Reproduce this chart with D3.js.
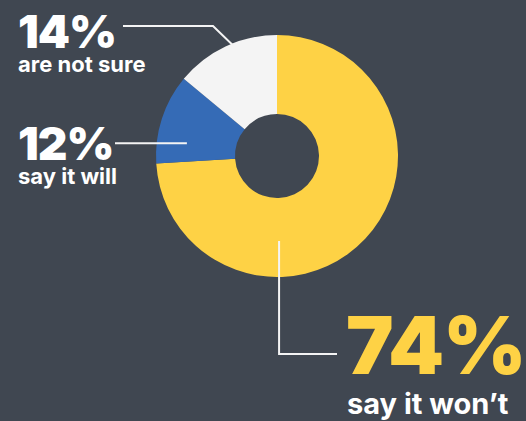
<!DOCTYPE html>
<html>
<head>
<meta charset="utf-8">
<script src="https://cdn.jsdelivr.net/npm/d3@7"></script>
<style>
  html, body { margin: 0; padding: 0; background: #404751; }
  svg { display: block; }
</style>
</head>
<body>
<script>
const width = 526;
const height = 421;

// Data
const categories = ["say it won\u2019t", "say it will", "are not sure"];
const values = [74, 12, 14];
const colors = ["#fed245", "#356bb6", "#f4f4f4"];

const cx = 277, cy = 156;
const outerR = 121, innerR = 42;

const svg = d3.select("body").append("svg")
  .attr("width", width)
  .attr("height", height);

const g = svg.append("g").attr("transform", `translate(${cx},${cy})`);

// Pie starting at 12 o'clock, clockwise, in data order
const pie = d3.pie().sort(null).value(d => d.value);
const arcs = pie(values.map((v, i) => ({ name: categories[i], value: v, color: colors[i] })));

const arc = d3.arc().innerRadius(innerR).outerRadius(outerR);

g.selectAll("path.slice")
  .data(arcs)
  .enter()
  .append("path")
  .attr("class", "slice")
  .attr("d", arc)
  .attr("fill", d => d.data.color);

// Leader lines: anchor on the slice (angle in deg from top, radius), then elbow and end
const point = (deg, r) => {
  const a = deg * Math.PI / 180;
  return [cx + r * Math.sin(a), cy - r * Math.cos(a)];
};

const labels = [
  { i: 2, anchor: point(344, 98), path: p => [p, [213, 26], [123, 26]],
    pct: { x: 18, y: 48, size: 46, fill: "#fff" }, sub: { x: 18, y: 72, size: 22 } },
  { i: 1, anchor: point(278, 91), path: p => [p, [115, p[1]]],
    pct: { x: 18, y: 160, size: 46, fill: "#fff" }, sub: { x: 18, y: 184, size: 22 } },
  { i: 0, anchor: point(178.6, 85), path: p => [p, [p[0], 354], [337, 354]],
    pct: { x: 346, y: 374, size: 80, fill: colors[0] }, sub: { x: 347, y: 414, size: 29 } }
];

const line = d3.line();

labels.forEach(l => {
  svg.append("path")
    .attr("d", line(l.path(l.anchor)))
    .attr("fill", "none")
    .attr("stroke", "#f4f4f4")
    .attr("stroke-width", 2);

  svg.append("text")
    .attr("x", l.pct.x)
    .attr("y", l.pct.y)
    .attr("fill", l.pct.fill)
    .style("font-family", "Inter, 'DejaVu Sans', sans-serif")
    .style("font-weight", 900)
    .style("font-size", l.pct.size + "px")
    .style("letter-spacing", "-1px")
    .text(values[l.i] + "%");

  svg.append("text")
    .attr("x", l.sub.x)
    .attr("y", l.sub.y)
    .attr("fill", "#fff")
    .style("font-family", "Inter, 'DejaVu Sans', sans-serif")
    .style("font-weight", 700)
    .style("font-size", l.sub.size + "px")
    .text(categories[l.i]);
});
</script>
</body>
</html>
